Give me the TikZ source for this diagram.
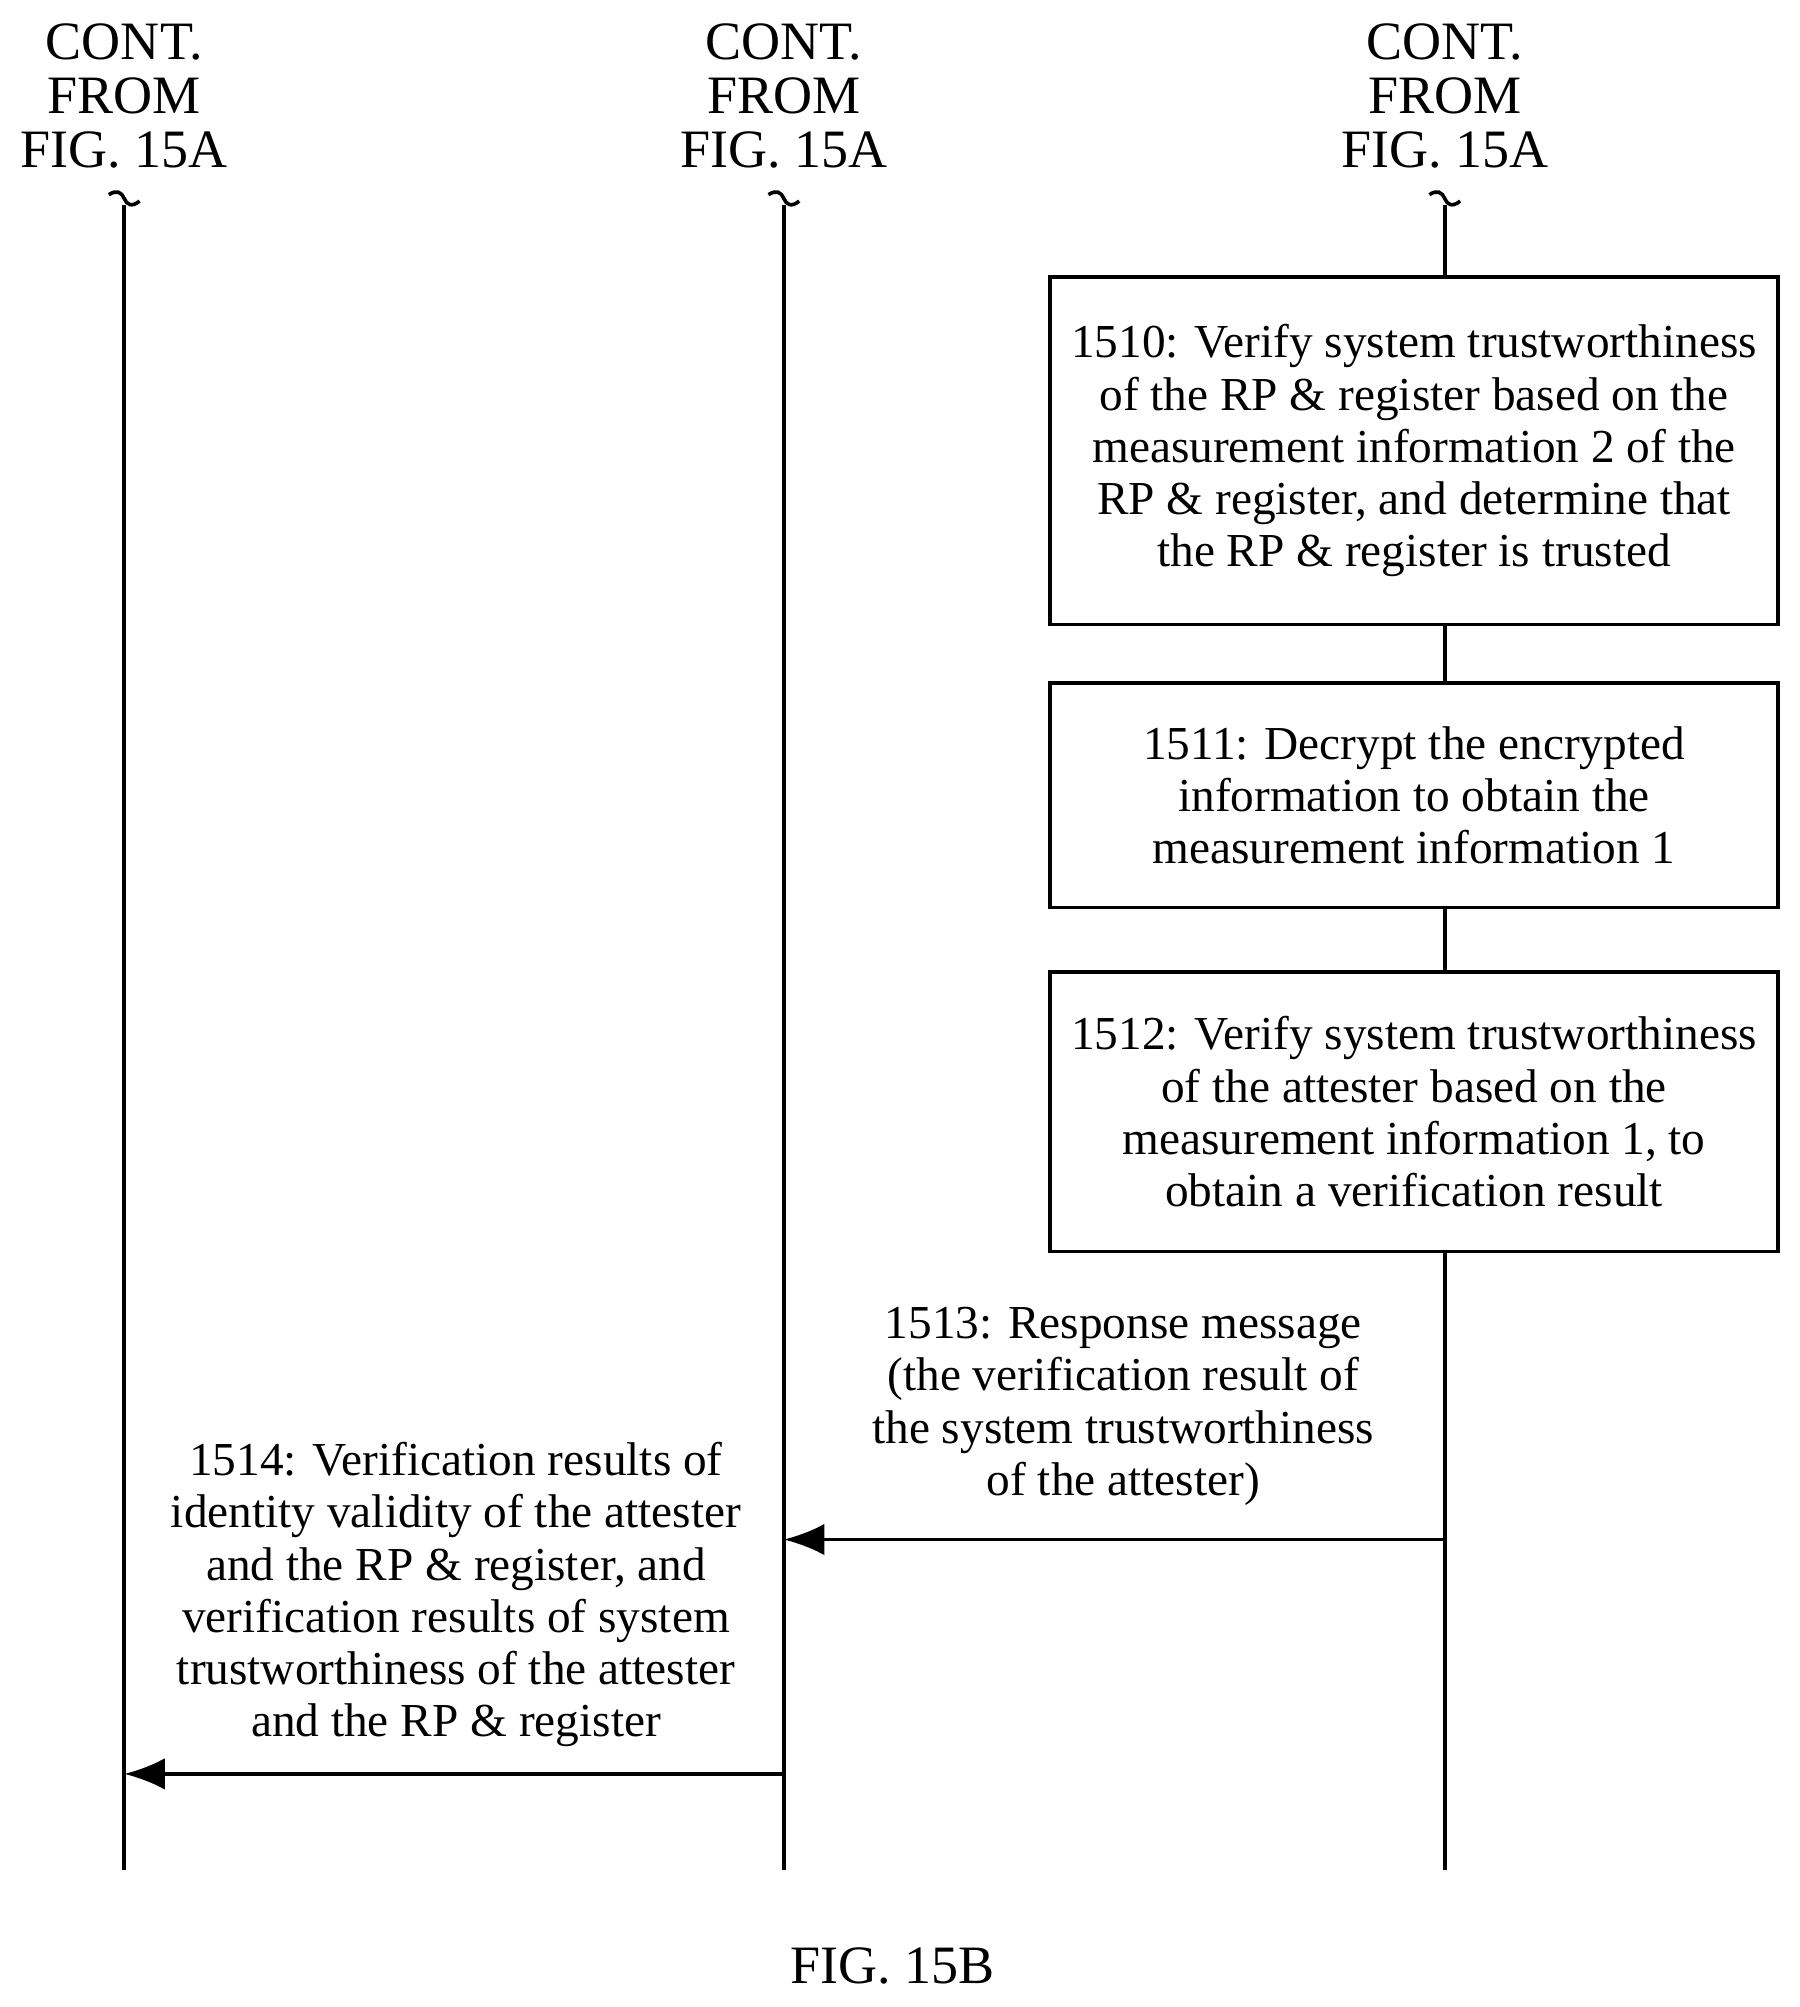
\documentclass[tikz,border=0pt]{standalone}
\usepackage{fontspec}
\setmainfont{Liberation Serif}
\usetikzlibrary{arrows.meta, positioning}
\tikzset{
    proc/.style={draw, thick, align=center, font=\fontsize{10.5}{11.6}\selectfont, inner sep=0pt, minimum width=5.68cm},
    msg/.style={align=center, font=\fontsize{10.5}{11.6}\selectfont},
    head/.style={align=center, font=\fontsize{12}{12}\selectfont},
    life/.style={thick},
    call/.style={thick, -{Latex[length=9pt,width=7pt]}}
}
\begin{document}
\begin{tikzpicture}[x=0.01cm,y=-0.01cm]
        \useasboundingbox (0,0) rectangle (1405,1567);
        
        \node[head] (H1) at (97,75) {CONT.\\FROM\\FIG. 15A};
        \node[head] (H2) at (612,75) {CONT.\\FROM\\FIG. 15A};
        \node[head] (H3) at (1128,75) {CONT.\\FROM\\FIG. 15A};
        
        \coordinate (T1) at (97,160);
        \coordinate (T2) at (612,160);
        \coordinate (T3) at (1128,160);
        \coordinate (B1) at (97,1460);
        \coordinate (B2) at (612,1460);
        \coordinate (B3) at (1128,1460);
        
        \foreach \x in {97,612,1128}
            \draw[thick] (\x-12,152) .. controls (\x-6,148) and (\x-2,150) .. (\x,155) .. controls (\x+2,160) and (\x+6,162) .. (\x+12,157);
        
        \node[proc, minimum height=2.71cm] (S1510) at (1104,352) {1510: Verify system trustworthiness\\of the RP \& register based on the\\measurement information 2 of the\\RP \& register, and determine that\\the RP \& register is trusted};
        \node[proc, minimum height=1.75cm] (S1511) at (1104,621) {1511: Decrypt the encrypted\\information to obtain the\\measurement information 1};
        \node[proc, minimum height=2.18cm] (S1512) at (1104,868) {1512: Verify system trustworthiness\\of the attester based on the\\measurement information 1, to\\obtain a verification result};
        
        \draw[life] (T1) -- (B1);
        \draw[life] (T2) -- (B2);
        \draw[life] (T3) -- (T3 |- S1510.north);
        \draw[life] (T3 |- S1510.south) -- (T3 |- S1511.north);
        \draw[life] (T3 |- S1511.south) -- (T3 |- S1512.north);
        \draw[life] (T3 |- S1512.south) -- (B3);
        
        \coordinate (A1) at (1128,1202);
        \coordinate (A2) at (612,1202);
        \coordinate (C1) at (612,1385);
        \coordinate (C2) at (97,1385);
        \draw[call] (A1) -- (A2);
        \draw[call] (C1) -- (C2);
        
        \node[msg] (M1513) at (877,1098) {1513: Response message\\(the verification result of\\the system trustworthiness\\of the attester)};
        \node[msg] (M1514) at (356,1245) {1514: Verification results of\\identity validity of the attester\\and the RP \& register, and\\verification results of system\\trustworthiness of the attester\\and the RP \& register};
        
        \node[head] (Fig) at (697,1535) {FIG. 15B};
    \end{tikzpicture}
\end{document}
